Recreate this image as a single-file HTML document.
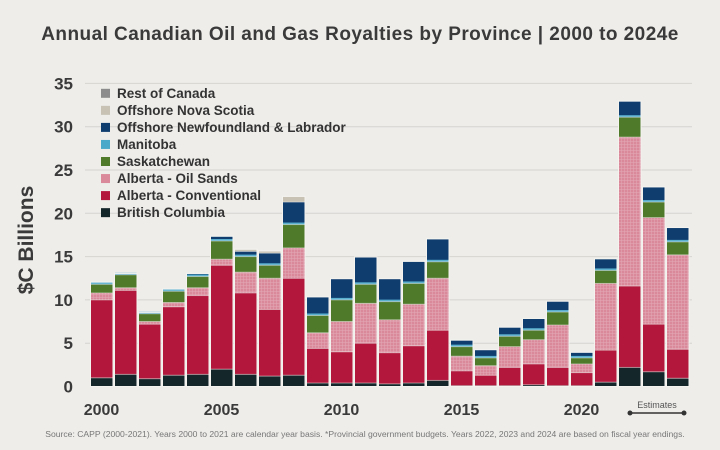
<!DOCTYPE html>
<html><head><meta charset="utf-8"><style>
body{margin:0;background:#eeedea;}
svg{display:block;font-family:"Liberation Sans",sans-serif;}
</style></head><body>
<svg id="c" width="720" height="450" xmlns="http://www.w3.org/2000/svg">
<defs>
<pattern id="os" width="3" height="3" patternUnits="userSpaceOnUse">
<rect width="3" height="3" fill="#d9899a"/><rect width="1" height="3" fill="#e3a5b2" opacity="0.6"/><rect width="3" height="1" fill="#e3a5b2" opacity="0.6"/>
</pattern>
</defs>
<rect width="720" height="450" fill="#eeedea"/>
<text x="360" y="40" text-anchor="middle" font-size="19" letter-spacing="0.45" font-weight="bold" fill="#3a3a3a">Annual Canadian Oil and Gas Royalties by Province | 2000 to 2024e</text>
<text transform="translate(33,240) rotate(-90)" text-anchor="middle" font-size="21" font-weight="bold" fill="#3a3a3a">$C Billions</text>
<g id="grid"></g>
<g id="bars"></g>
<g id="leg"></g>
<text x="657" y="408" text-anchor="middle" font-size="9" fill="#555">Estimates</text>
<line x1="630" y1="413" x2="684" y2="413" stroke="#333" stroke-width="1.5"/>
<circle cx="630" cy="413" r="2.5" fill="#333"/><circle cx="684" cy="413" r="2.5" fill="#333"/>
<text x="365" y="437" text-anchor="middle" font-size="8.6" fill="#777">Source: CAPP (2000-2021). Years 2000 to 2021 are calendar year basis. *Provincial government budgets. Years 2022, 2023 and 2024 are based on fiscal year endings.</text>
</svg>
<script>
const NS="http://www.w3.org/2000/svg";
function el(p,t,a,txt){const e=document.createElementNS(NS,t);for(const k in a)e.setAttribute(k,a[k]);if(txt)e.textContent=txt;p.appendChild(e);return e;}
const y0=386.5,k=8.66,Y=v=>y0-v*k;
const g=document.getElementById('grid');
for(let v=0;v<=35;v+=5){if(v>0)el(g,'line',{x1:85,x2:692,y1:Y(v),y2:Y(v),stroke:'#d6d4cf','stroke-width':1});
el(g,'text',{x:73,y:Y(v)+6,'text-anchor':'end','font-size':17,'font-weight':'bold',fill:'#3a3a3a'},String(v));}
[2000,2005,2010,2015,2020].forEach((yr,i)=>{el(g,'text',{x:101.5+(yr-2000)*24,y:415,'text-anchor':'middle','font-size':16,'font-weight':'bold',fill:'#3a3a3a'},String(yr));});
const D=[[1.0,10.0,10.8,11.8,12.0],[1.4,11.1,11.4,12.9,13.0],[0.9,7.2,7.5,8.4,8.5],[1.3,9.2,9.7,11.0,11.2],[1.4,10.5,11.4,12.7,13.0],
[2.0,14.0,14.7,16.8,17.3],[1.4,10.8,13.2,15.0,15.6,15.8],[1.2,8.9,12.5,14.0,15.4,15.6],[1.3,12.5,16.0,18.7,21.3,21.9],[0.4,4.4,6.2,8.2,10.3],
[0.4,4.0,7.5,10.0,12.4],[0.4,5.0,9.6,11.8,14.9],[0.3,3.9,7.7,9.8,12.4],[0.4,4.7,9.5,11.9,14.4],[0.7,6.5,12.5,14.4,17.0],
[0.1,1.8,3.5,4.6,5.3],[0.1,1.3,2.4,3.3,4.2],[0.1,2.2,4.6,5.8,6.8],[0.2,2.6,5.4,6.5,7.8],[0.1,2.2,7.1,8.6,9.8],
[0.1,1.6,2.6,3.3,3.9],[0.5,4.2,11.9,13.4,14.7],[2.2,11.6,28.8,31.1,32.9],[1.7,7.2,19.5,21.3,23.0],[0.95,4.3,15.2,16.7,18.3]];
const C=['#15262a','#b3173c','url(#os)','#4f7a2a','#0f3d6e','#c7c2b4'];
const b=document.getElementById('bars');
D.forEach((d,i)=>{const x=91+i*24,w=21.5;let prev=0;
d.forEach((v,j)=>{if(v<=prev)return;el(b,'rect',{x:x,y:Y(v),width:w,height:(v-prev)*k,fill:C[j]});
if(j===4)el(b,'rect',{x:x,y:Y(prev)-2,width:w,height:2,fill:'#5ab0cf'});
if(j>0)el(b,'rect',{x:x,y:Y(prev)-0.5,width:w,height:1,fill:'#eeedea',opacity:0.5});prev=v;});
el(b,'rect',{x:x-0.5,y:Y(prev)-0.5,width:w+1,height:prev*k+0.5,fill:'none',stroke:'#f4f3f0','stroke-width':1});
});
const L=[['Rest of Canada','#8c8c8c'],['Offshore Nova Scotia','#c7c2b4'],['Offshore Newfoundland & Labrador','#0f3d6e'],['Manitoba','#4aa9c8'],['Saskatchewan','#4f7a2a'],['Alberta - Oil Sands','#d9899a'],['Alberta - Conventional','#b3173c'],['British Columbia','#15262a']];
const lg=document.getElementById('leg');
L.forEach((l,i)=>{const cy=93.3+i*17.05;el(lg,'rect',{x:101,y:cy-4.5,width:9,height:9,fill:l[1]});
el(lg,'text',{x:117,y:cy+4.5,'font-size':13.5,'font-weight':'bold',fill:'#333'},l[0]);});
</script>
</body></html>
